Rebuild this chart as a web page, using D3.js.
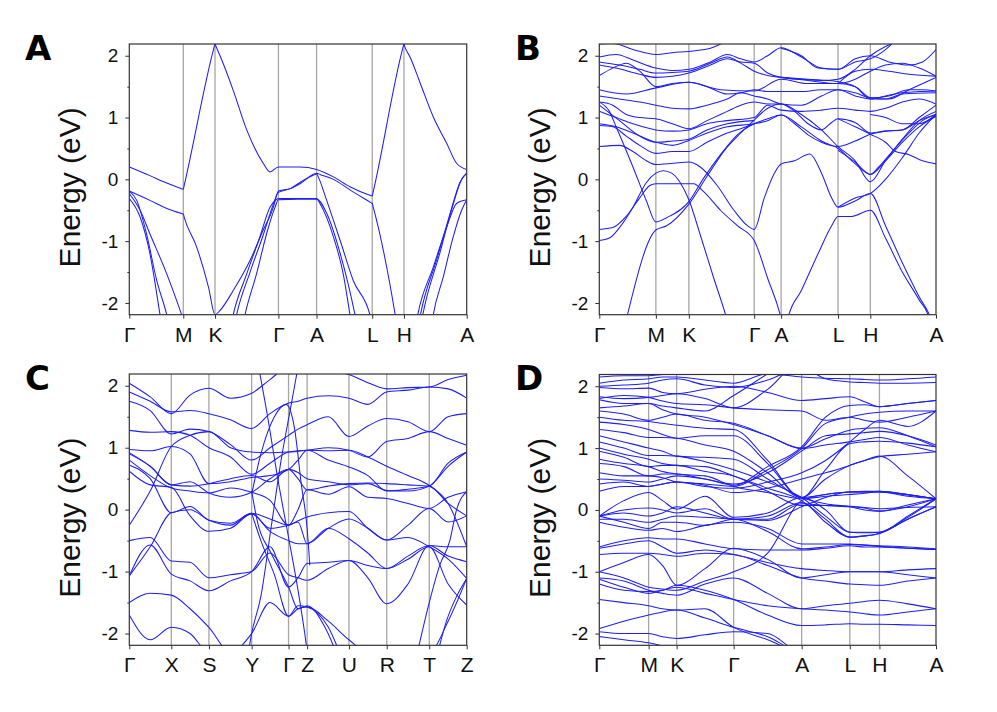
<!DOCTYPE html>
<html><head><meta charset="utf-8">
<script src="https://cdn.jsdelivr.net/npm/d3@7"></script>
<style>body{margin:0;background:#fff}svg{display:block}</style>
</head><body><svg id="c" width="997" height="712"></svg>
<script>
const yTicks = [-2,-1,0,1,2];
const yMinor = [-1.5,-0.5,0.5,1.5];
const eDomain = [-2.19, 2.19];

// ---------- Panel A ----------
const labelsA = ["Γ","M","K","Γ","A","L","H","A"];
const kposA = [0,0.160,0.254,0.442,0.555,0.720,0.814,1];
const bandsA = [
 [[0,0.2],[0.061,0.06],[0.111,-0.06],[0.157,-0.155],[0.16,-0.16],[0.163,-0.09],[0.251,2.13],[0.254,2.19],[0.257,2.15],[0.269,2.0],[0.308,1.44],[0.348,0.8],[0.397,0.26],[0.417,0.12],[0.442,0.2],[0.506,0.2],[0.555,0.16],[0.605,0.04],[0.654,-0.12],[0.717,-0.265],[0.72,-0.27],[0.723,-0.2],[0.811,2.13],[0.814,2.19],[0.817,2.14],[0.832,1.98],[0.862,1.56],[0.901,1.01],[0.941,0.58],[0.97,0.26],[1,0.16]],
 [[0,-0.19],[0.061,-0.34],[0.111,-0.47],[0.157,-0.555],[0.16,-0.56],[0.163,-0.62],[0.2,-1.1],[0.235,-1.75],[0.254,-2.19],[0.269,-2.12],[0.308,-1.8],[0.358,-1.31],[0.397,-0.82],[0.427,-0.45],[0.437,-0.25],[0.442,-0.19],[0.477,-0.15],[0.506,-0.07],[0.555,0.1],[0.565,0.08],[0.605,0.0],[0.654,-0.17],[0.717,-0.38],[0.72,-0.39],[0.723,-0.45],[0.788,-2.19],[0.8,-2.6]],
 [[0.31,-2.4],[0.318,-2.19],[0.358,-1.5],[0.397,-0.9],[0.427,-0.4],[0.442,-0.21],[0.477,-0.15],[0.506,-0.05],[0.55,0.08],[0.555,0.09],[0.56,0.04],[0.585,-0.34],[0.625,-0.99],[0.664,-1.64],[0.713,-2.19],[0.72,-2.35]],
 [[0,-0.31],[0.032,-0.61],[0.061,-1.2],[0.091,-2.19],[0.1,-2.5]],
 [[0,-0.19],[0.022,-0.34],[0.051,-0.88],[0.081,-1.63],[0.111,-2.19],[0.12,-2.4]],
 [[0,-0.23],[0.032,-0.5],[0.061,-0.88],[0.111,-1.53],[0.155,-2.19],[0.165,-2.35]],
 [[0.3,-2.4],[0.308,-2.19],[0.348,-1.53],[0.387,-0.93],[0.417,-0.45],[0.435,-0.33],[0.442,-0.31],[0.5,-0.31],[0.555,-0.31],[0.565,-0.39],[0.605,-0.93],[0.634,-1.53],[0.654,-2.19],[0.66,-2.4]],
 [[0.335,-2.4],[0.343,-2.19],[0.377,-1.53],[0.407,-0.88],[0.432,-0.45],[0.442,-0.33],[0.5,-0.32],[0.555,-0.32],[0.585,-0.55],[0.625,-1.2],[0.669,-2.19],[0.675,-2.35]],
 [[0.848,-2.4],[0.855,-2.19],[0.901,-1.42],[0.941,-0.77],[0.97,-0.39],[1,-0.33]],
 [[0.856,-2.4],[0.863,-2.19],[0.911,-1.3],[0.951,-0.55],[0.98,-0.05],[1,0.1]],
 [[0.895,-2.4],[0.901,-2.19],[0.931,-1.57],[0.96,-0.93],[0.985,-0.5],[1,-0.33]],
 [[0.863,-2.4],[0.87,-2.19],[0.92,-1.2],[0.96,-0.4],[0.985,0.0],[1,0.1]]
];

// ---------- Panel B ----------
const labelsB = ["Γ","M","K","Γ","A","L","H","A"];
const kposB = [0,0.168,0.266,0.460,0.540,0.709,0.805,1];
const bandsB = [
 [[0,-0.99],[0.03,-0.95],[0.06,-0.78],[0.1,-0.45],[0.14,-0.05],[0.168,0.1],[0.19,0.14],[0.215,0.1],[0.24,-0.05],[0.266,-0.33],[0.3,-0.9],[0.34,-1.6],[0.378,-2.25],[0.39,-2.5]],
 [[0,-0.81],[0.04,-0.78],[0.08,-0.6],[0.12,-0.3],[0.15,-0.1],[0.168,-0.07],[0.28,-0.07],[0.31,-0.2],[0.36,-0.5],[0.41,-0.75],[0.46,-0.99],[0.5,-1.6],[0.54,-2.25],[0.55,-2.5]],
 [[0,1.25],[0.03,1.1],[0.05,0.85],[0.1,0.2],[0.14,-0.35],[0.168,-0.69],[0.2,-0.62],[0.266,-0.36],[0.31,0.02],[0.36,0.4],[0.41,0.72],[0.46,0.9],[0.5,0.98],[0.54,1.04],[0.6,0.85],[0.66,0.62],[0.709,0.5],[0.75,0.3],[0.79,0.12],[0.805,0.08],[0.83,0.2],[0.87,0.45],[0.92,0.75],[0.96,0.95],[1,1.05]],
 [[0.07,-2.5],[0.081,-2.25],[0.168,-0.82],[0.2,-0.75],[0.266,-0.4],[0.32,0.05],[0.372,0.47],[0.42,0.75],[0.46,0.96],[0.5,1.15],[0.54,1.22],[0.6,1.05],[0.66,0.8],[0.709,0.53],[0.76,0.3],[0.805,-0.04],[0.85,0.3],[0.9,0.65],[0.95,0.95],[1,1.1]],
 [[0,0.53],[0.06,0.55],[0.1,0.45],[0.14,0.3],[0.168,0.24],[0.22,0.26],[0.266,0.28],[0.3,0.2],[0.35,-0.1],[0.4,-0.5],[0.44,-0.75],[0.46,-0.81],[0.49,-0.3],[0.52,0.1],[0.54,0.25],[0.58,0.3],[0.625,0.41],[0.66,0.1],[0.69,-0.3],[0.709,-0.45],[0.76,-0.35],[0.805,-0.23],[0.85,-0.75],[0.9,-1.35],[0.95,-1.9],[0.985,-2.25],[1,-2.5]],
 [[0.55,-2.5],[0.56,-2.25],[0.6,-1.8],[0.65,-1.2],[0.69,-0.75],[0.709,-0.6],[0.75,-0.6],[0.805,-0.5],[0.85,-0.95],[0.9,-1.5],[0.95,-1.95],[0.98,-2.25],[0.99,-2.5]],
 [[0.709,0.47],[0.76,0.28],[0.805,0.08],[0.85,0.3],[0.9,0.6],[0.95,0.85],[1,1.02]],
 [[0.709,-0.45],[0.76,-0.3],[0.805,-0.23],[0.85,0.0],[0.9,0.35],[0.95,0.75],[1,1.05]],
 [[0.709,0.98],[0.76,0.85],[0.805,0.73],[0.85,0.6],[0.88,0.45],[0.92,0.4],[0.96,0.3],[1,0.25]],
 [[0,2.19],[0.04,2.2],[0.1,2.1],[0.168,2.02],[0.217,2.05],[0.266,2.07],[0.33,2.12],[0.38,2.25]],
 [[0,1.98],[0.05,2.02],[0.1,1.93],[0.168,1.8],[0.217,1.76],[0.266,1.78],[0.33,1.9],[0.38,2.02],[0.42,1.95],[0.46,1.9],[0.5,2.0],[0.54,2.13],[0.6,1.98],[0.66,1.8],[0.709,1.78],[0.76,1.9],[0.805,1.95],[0.85,2.1],[0.88,2.25]],
 [[0,1.9],[0.06,1.85],[0.12,1.78],[0.168,1.72],[0.217,1.73],[0.266,1.75],[0.33,1.88],[0.38,1.98],[0.42,1.88],[0.46,1.75],[0.5,1.68],[0.54,1.65],[0.62,1.6],[0.709,1.55],[0.76,1.62],[0.805,1.75],[0.85,1.85],[0.9,1.88],[0.95,1.8],[1,1.67]],
 [[0,1.85],[0.05,1.8],[0.12,1.7],[0.168,1.65],[0.266,1.72],[0.33,1.85],[0.38,1.95],[0.42,1.9],[0.46,1.88],[0.5,1.72],[0.54,1.65],[0.6,1.62],[0.66,1.6],[0.709,1.62],[0.76,1.78],[0.805,2.0],[0.85,2.15],[0.9,2.25]],
 [[0,1.68],[0.04,1.8],[0.08,1.88],[0.12,1.75],[0.168,1.5],[0.217,1.55],[0.266,1.57],[0.32,1.5],[0.38,1.38],[0.42,1.4],[0.46,1.45],[0.5,1.42],[0.54,1.42],[0.6,1.42],[0.66,1.45],[0.709,1.45],[0.76,1.4],[0.805,1.32],[0.86,1.35],[0.92,1.45],[0.96,1.45],[1,1.43]],
 [[0,1.45],[0.08,1.38],[0.168,1.48],[0.266,1.57],[0.36,1.45],[0.46,1.43],[0.54,1.62],[0.62,1.55],[0.709,1.55],[0.76,1.5],[0.805,1.32],[0.85,1.3],[0.9,1.38],[1,1.4]],
 [[0,1.35],[0.06,1.3],[0.12,1.25],[0.168,1.2],[0.217,1.15],[0.266,1.14],[0.32,1.2],[0.38,1.3],[0.42,1.4],[0.46,1.35],[0.5,1.3],[0.54,1.22],[0.6,1.2],[0.66,1.35],[0.709,1.45],[0.76,1.35],[0.805,1.3],[0.85,1.35],[0.9,1.4],[0.95,1.42],[1,1.43]],
 [[0,1.25],[0.04,1.2],[0.08,1.05],[0.12,1.0],[0.168,0.98],[0.217,0.9],[0.266,0.82],[0.32,0.95],[0.38,1.1],[0.42,1.2],[0.46,1.25],[0.5,1.22],[0.54,1.22],[0.58,1.1],[0.62,0.9],[0.66,0.8],[0.69,0.92],[0.709,0.98],[0.76,0.92],[0.805,0.75],[0.85,0.78],[0.9,0.8],[0.95,1.0],[1,1.2]],
 [[0,1.1],[0.05,1.0],[0.1,0.9],[0.168,0.8],[0.217,0.78],[0.266,0.8],[0.32,0.9],[0.38,0.95],[0.46,1.0],[0.5,1.2],[0.54,1.12],[0.6,1.1],[0.66,1.12],[0.709,1.15],[0.76,1.12],[0.805,1.1],[0.85,1.15],[0.9,1.25],[0.95,1.3],[1,1.22]],
 [[0,0.9],[0.05,0.85],[0.1,0.75],[0.168,0.6],[0.217,0.55],[0.266,0.63],[0.32,0.75],[0.38,0.85],[0.46,0.9],[0.5,0.95],[0.54,1.04],[0.58,0.9],[0.62,0.72],[0.66,0.6],[0.709,0.53],[0.76,0.62],[0.805,0.73],[0.85,0.78],[0.9,0.8],[0.95,0.95],[1,1.05]],
 [[0,0.87],[0.04,0.85],[0.08,0.7],[0.12,0.55],[0.168,0.42],[0.217,0.45],[0.266,0.45],[0.32,0.6],[0.38,0.75],[0.42,0.82],[0.46,0.9]],
 [[0,1.2],[0.06,0.95],[0.12,0.7],[0.168,0.6],[0.217,0.62],[0.266,0.65],[0.32,0.8],[0.38,0.9],[0.46,0.95]],
 [[0.54,2.12],[0.6,2.0],[0.65,1.8],[0.709,1.78],[0.76,1.95],[0.805,2.0],[0.86,1.9],[0.92,1.85],[0.96,1.9],[1,2.1]],
 [[0.709,1.55],[0.76,1.75],[0.805,1.78],[0.86,1.75],[0.92,1.7],[1,1.67]],
 [[0.54,1.65],[0.62,1.62],[0.709,1.58],[0.76,1.5],[0.805,1.3],[0.86,1.3],[0.92,1.45],[1,1.65]],
 [[0.805,1.05],[0.85,1.0],[0.9,0.9],[0.95,0.9],[1,1.05]]
];

// ---------- Panel C ----------
const labelsC = ["Γ","X","S","Y","Γ","Z","U","R","T","Z"];
const kposC = [0,0.1245,0.236,0.3626,0.472,0.527,0.651,0.763,0.889,1];
const gridC = [0,0.062,0.1245,0.18,0.236,0.30,0.3626,0.417,0.472,0.50,0.527,0.59,0.651,0.707,0.763,0.826,0.889,0.945,1];
const valuesC = [
 [2.04,1.82,1.55,1.85,1.96,1.8,1.88,2.1,2.3,2.3,2.3,2.25,2.18,2.05,1.95,1.97,1.98,2.1,2.17],
 [1.9,1.75,1.58,1.6,1.55,1.45,1.31,1.55,1.72,1.75,1.8,1.84,1.8,1.7,1.9,1.93,1.98,1.95,1.8],
 [1.75,1.6,1.22,1.3,1.26,1.05,0.8,1.0,1.2,1.3,1.37,1.5,1.18,1.35,1.47,1.42,1.26,1.5,1.55],
 [1.28,1.25,1.26,1.2,1.0,0.85,0.57,0.75,0.93,0.95,0.96,1.0,0.96,0.85,1.1,1.15,1.26,1.15,1.04],
 [0.97,0.95,1.02,0.9,0.42,0.45,0.52,0.55,0.65,0.8,0.96,0.8,0.69,0.55,0.3,0.33,0.38,0.75,0.93],
 [0.92,0.7,0.4,0.38,0.42,0.5,0.55,0.45,0.65,0.5,0.32,0.38,0.42,0.43,0.42,0.4,0.38,0.1,-0.1],
 [0.8,0.55,0.35,0.3,0.27,0.35,0.28,0.15,-0.25,0.0,0.32,0.25,0.37,0.2,0.18,0.1,0.02,0.2,0.29],
 [0.72,0.5,-0.05,0.05,-0.17,-0.22,-0.06,-0.15,-0.25,-0.18,-0.12,-0.05,-0.03,-0.3,-0.49,-0.25,0.02,-0.2,-0.1],
 [0.62,0.4,0.36,-0.1,-0.35,-0.3,-0.07,-0.35,-0.5,-0.55,-0.55,-0.3,-0.47,-0.7,-0.95,-0.75,-0.58,-0.6,-0.6],
 [-0.25,0.3,1.02,1.2,1.26,1.0,0.93,0.92,0.93,0.94,0.96,0.95,0.96,0.85,0.7,0.55,0.39,0.1,-0.6],
 [-0.5,-0.45,-0.83,-0.85,-1.1,-1.05,-1.0,-0.7,-1.05,-1.1,-1.14,-0.95,-0.82,-1.1,-1.52,-1.2,-0.58,-0.75,-0.84],
 [-1.07,-0.6,-0.05,0.0,-0.17,-0.25,-0.06,-0.3,-0.25,-0.2,-0.55,-0.3,-0.15,-0.3,-0.49,-0.45,-0.6,-0.8,-1.11],
 [-1.07,-0.57,-1.04,-1.15,-1.31,-1.15,-1.0,-0.6,-1.25,-1.1,-0.87,-0.85,-0.82,-0.9,-0.95,-0.8,-0.6,-1.2,-1.54],
 [-1.5,-1.35,-1.38,-1.6,-1.9,-2.3,-2.0,-1.5,-1.72,-1.6,-1.57,-1.8,-2.1,-2.3,-2.3,-2.3,-2.3,-1.8,-1.11],
 [-1.7,-2.1,-1.9,-2.0,-2.3,-2.3,-2.3,-2.3,-2.3,-2.3,-2.3,-2.3,-2.3,-2.3,-2.3,-2.3,-2.3,-2.3,-2.3],
 [0.9,0.7,0.4,0.45,0.27,0.2,0.28,0.5,0.65,0.6,0.5,0.45,0.4,0.42,0.31,0.3,0.38,0.7,0.93]
];
const extraC = [
 [[0.35,-2.4],[0.3626,-2.0],[0.39,-1.4],[0.42,-0.3],[0.45,0.8],[0.48,1.7],[0.5,2.3]],
 [[0.38,2.4],[0.41,1.5],[0.44,0.5],[0.472,-0.45],[0.5,-1.3],[0.52,-2.0],[0.53,-2.4]],
 [[0.3626,0.25],[0.39,0.9],[0.43,1.5],[0.465,1.7],[0.49,1.3],[0.51,0.4],[0.527,-0.3],[0.535,-0.9]],
 [[0.3626,0.3],[0.38,-0.2],[0.42,-0.7],[0.472,-1.25],[0.5,-1.6],[0.527,-1.55],[0.58,-1.9],[0.62,-2.4]],
 [[0.3626,-0.06],[0.39,-0.5],[0.43,-1.05],[0.472,-1.72],[0.5,-1.55],[0.527,-1.57],[0.59,-1.9],[0.63,-2.4]],
 [[0.85,-2.4],[0.889,-1.5],[0.92,-0.9],[0.95,-0.5],[0.97,0.0],[1,0.29]],
 [[0.91,-2.4],[0.94,-1.8],[0.97,-1.4],[1,-1.11]]
];

// ---------- Panel D ----------
const labelsD = ["Γ","M","K","Γ","A","L","H","A"];
const kposD = [0,0.1465,0.2297,0.399,0.601,0.744,0.832,1];
const gridD = [0,0.073,0.1465,0.188,0.2297,0.314,0.399,0.5,0.601,0.672,0.744,0.788,0.832,0.916,1];
const valuesD = [
 [2.15,2.17,2.17,2.19,2.2,2.22,2.25,2.3,2.3,2.3,2.3,2.3,2.3,2.3,2.3],
 [2.05,2.1,2.12,2.15,2.15,2.1,2.05,2.2,2.15,2.13,2.12,2.11,2.1,2.12,2.15],
 [2.0,2.02,2.05,2.1,2.12,2.02,1.98,2.1,2.3,2.12,2.07,2.06,2.05,2.05,2.06],
 [1.98,1.96,1.97,1.9,1.88,1.95,2.0,1.9,1.77,1.8,1.83,1.75,1.67,1.72,1.77],
 [1.83,1.8,1.82,1.85,1.88,1.8,1.65,1.95,2.4,2.35,2.3,2.3,2.3,2.3,2.3],
 [1.8,1.85,1.82,1.76,1.72,1.7,1.65,1.62,1.6,1.45,1.5,1.45,1.42,1.5,1.6],
 [1.78,1.72,1.72,1.68,1.65,1.6,1.85,2.2,2.5,2.4,2.3,2.3,2.3,2.3,2.3],
 [1.65,1.68,1.72,1.62,1.55,1.5,1.38,1.2,1.0,1.15,1.29,1.32,1.33,1.2,1.02],
 [1.6,1.55,1.45,1.5,1.55,1.45,1.4,1.2,0.99,1.05,1.1,1.14,1.17,1.05,0.94],
 [1.5,1.45,1.43,1.4,1.37,1.32,1.3,0.8,0.2,0.65,1.07,1.1,1.11,1.08,1.02],
 [1.42,1.38,1.3,1.22,1.16,1.2,1.2,0.75,0.2,0.5,0.72,0.8,0.87,0.55,0.18],
 [1.3,1.25,1.17,1.17,1.16,1.05,0.95,0.6,0.2,0.25,0.29,0.29,0.29,0.24,0.18],
 [1.2,1.1,1.0,0.95,0.87,0.85,0.82,0.5,0.2,0.1,0.05,0.0,-0.02,0.08,0.18],
 [1.1,1.0,0.88,0.88,0.87,0.78,0.65,0.45,0.2,-0.1,-0.36,-0.37,-0.36,-0.12,0.18],
 [1.0,0.9,0.82,0.75,0.72,0.7,0.55,0.35,0.15,-0.15,-0.44,-0.42,-0.38,-0.15,0.05],
 [0.95,0.85,0.7,0.72,0.72,0.62,0.55,0.3,0.07,0.07,0.06,0.04,0.02,0.04,0.05],
 [0.82,0.75,0.7,0.62,0.58,0.55,0.38,0.28,0.18,0.22,0.25,0.27,0.3,0.25,0.18],
 [0.75,0.7,0.55,0.58,0.58,0.5,0.42,0.6,0.95,1.2,1.23,1.25,1.27,1.2,1.05],
 [0.6,0.55,0.55,0.52,0.45,0.42,0.38,0.65,0.99,1.4,1.5,1.55,1.58,1.6,1.6],
 [0.5,0.48,0.45,0.5,0.55,0.5,0.4,0.7,1.02,1.5,1.69,1.7,1.67,1.72,1.77],
 [0.42,0.45,0.38,0.42,0.45,0.38,0.35,0.45,0.6,0.8,1.1,1.3,1.45,1.35,1.6],
 [0.3,0.38,0.38,0.42,0.45,0.4,0.28,0.35,0.5,0.6,0.72,0.8,0.86,0.9,0.94],
 [-0.1,0.15,0.28,0.15,0.01,0.22,-0.12,-0.05,0.2,0.0,-0.36,-0.36,-0.36,-0.1,0.18],
 [-0.1,0.0,0.03,0.0,-0.05,0.02,-0.15,-0.1,0.12,-0.2,-0.44,-0.42,-0.38,-0.15,0.05],
 [-0.1,-0.05,-0.1,-0.05,0.05,-0.05,-0.15,-0.15,0.1,0.07,0.05,0.03,-0.02,0.05,0.18],
 [-0.15,-0.15,-0.2,-0.15,-0.1,-0.12,-0.15,-0.17,0.05,0.2,0.29,0.29,0.29,0.22,0.18],
 [-0.1,-0.2,-0.3,-0.2,-0.2,-0.25,-0.15,-0.35,-0.63,-0.6,-0.56,-0.57,-0.59,-0.62,-0.64],
 [-0.2,-0.28,-0.33,-0.3,-0.35,-0.25,-0.2,-0.3,-0.55,-0.55,-0.55,-0.57,-0.58,-0.6,-0.63],
 [-0.6,-0.5,-0.45,-0.47,-0.47,-0.55,-0.63,-0.65,-0.65,-0.62,-0.58,-0.6,-0.6,-0.62,-0.64],
 [-0.62,-0.55,-0.5,-0.6,-0.7,-0.65,-0.72,-0.85,-0.95,-0.98,-1.0,-1.0,-1.0,-0.97,-0.95],
 [-0.72,-0.7,-0.7,-0.72,-0.75,-0.7,-0.72,-0.9,-1.1,-1.15,-1.2,-1.21,-1.22,-1.15,-1.1],
 [-1.0,-0.85,-0.72,-0.9,-1.22,-0.95,-0.62,-0.8,-1.1,-1.05,-1.0,-1.0,-1.0,-1.05,-1.1],
 [-1.0,-1.1,-1.25,-1.28,-1.3,-1.15,-1.0,-0.7,0.15,0.25,0.29,0.3,0.3,0.25,0.18],
 [-1.1,-1.15,-1.3,-1.35,-1.38,-1.2,-1.1,-1.35,-1.6,-1.55,-1.51,-1.48,-1.46,-1.52,-1.6],
 [-1.12,-1.25,-1.35,-1.3,-1.25,-1.35,-1.45,-1.55,-1.6,-1.62,-1.65,-1.68,-1.7,-1.65,-1.6],
 [-1.2,-1.3,-1.32,-1.3,-1.22,-1.3,-1.45,-1.7,-1.87,-1.86,-1.84,-1.85,-1.85,-1.86,-1.87],
 [-1.45,-1.5,-1.55,-1.6,-1.62,-1.6,-1.9,-2.1,-2.3,-2.3,-2.3,-2.3,-2.3,-2.3,-2.3],
 [-1.92,-1.8,-1.7,-1.65,-1.62,-1.75,-1.9,-2.05,-2.3,-2.3,-2.3,-2.3,-2.3,-2.3,-2.3],
 [-1.97,-2.0,-2.0,-2.05,-2.08,-2.02,-1.97,-2.0,-2.3,-2.3,-2.3,-2.3,-2.3,-2.3,-2.3],
 [-2.05,-2.1,-2.15,-2.2,-2.25,-2.3,-2.3,-2.3,-2.3,-2.3,-2.3,-2.3,-2.3,-2.3,-2.3]
];

const svg = d3.select("#c");
svg.append("rect").attr("width",997).attr("height",712).attr("fill","#fff");
const FONT = "'Liberation Sans', Arial, Helvetica, sans-serif";
const BAND = "#1e1ef5";

function toPts(grid, vals){ return vals.map(v => grid.map((f,i)=>[f,v[i]])); }

const panels = [
 {name:"A", x0:129.3, x1:466.7, y0:44, y1:314.7, labels:labelsA, kpos:kposA, bands:bandsA, lx:25, ly:60, tx:80},
 {name:"B", x0:599.3, x1:936, y0:44, y1:314.7, labels:labelsB, kpos:kposB, bands:bandsB, lx:515, ly:60, tx:550},
 {name:"C", x0:129.3, x1:466.7, y0:374, y1:645.3, labels:labelsC, kpos:kposC, bands:toPts(gridC,valuesC).concat(extraC), lx:25, ly:390, tx:80},
 {name:"D", x0:599.3, x1:936, y0:374.5, y1:645.3, labels:labelsD, kpos:kposD, bands:toPts(gridD,valuesD), lx:515, ly:390, tx:550}
];

panels.forEach(p => {
  const x = d3.scaleLinear().domain([0,1]).range([p.x0,p.x1]);
  const y = d3.scaleLinear().domain(eDomain).range([p.y1,p.y0]);
  const g = svg.append("g");
  const cid = "clip"+p.name;
  svg.append("clipPath").attr("id",cid).append("rect")
    .attr("x",p.x0).attr("y",p.y0).attr("width",p.x1-p.x0).attr("height",p.y1-p.y0);
  g.selectAll("line.sym").data(p.kpos.slice(1,-1)).join("line")
    .attr("x1",d=>x(d)).attr("x2",d=>x(d)).attr("y1",p.y0).attr("y2",p.y1)
    .attr("stroke","#a6a6a6").attr("stroke-width",1.3);
  const line = d3.line().x(d=>x(d[0])).y(d=>y(d[1])).curve(d3.curveMonotoneX);
  g.append("g").attr("clip-path",`url(#${cid})`)
    .selectAll("path").data(p.bands).join("path")
    .attr("d",line).attr("fill","none").attr("stroke",BAND).attr("stroke-width",1.05);
  const ya = g.append("g").attr("transform",`translate(${p.x0},0)`)
    .call(d3.axisLeft(y).tickValues(yTicks).tickSize(4).tickPadding(7).tickFormat(d=>String(d)));
  ya.select(".domain").remove();
  ya.selectAll("text").attr("font-family",FONT).attr("font-size",19).attr("fill","#111");
  ya.selectAll("line").attr("stroke","#333");
  g.append("g").attr("transform",`translate(${p.x0},0)`)
    .call(d3.axisLeft(y).tickValues(yMinor).tickSize(2).tickFormat(""))
    .call(s=>{s.select(".domain").remove(); s.selectAll("line").attr("stroke","#333");});
  const xa = g.append("g").attr("transform",`translate(0,${p.y1})`)
    .call(d3.axisBottom(x).tickValues(p.kpos).tickSize(4).tickPadding(8).tickFormat((d,i)=>p.labels[i]));
  xa.select(".domain").remove();
  xa.selectAll("text").attr("font-family",FONT).attr("font-size",21).attr("fill","#111");
  xa.selectAll("line").attr("stroke","#333");
  g.append("rect").attr("x",p.x0).attr("y",p.y0).attr("width",p.x1-p.x0).attr("height",p.y1-p.y0)
    .attr("fill","none").attr("stroke","#333").attr("stroke-width",1.2);
  g.append("text").attr("transform",`translate(${p.tx},${(p.y0+p.y1)/2+8}) rotate(-90)`)
    .attr("text-anchor","middle").attr("font-family",FONT).attr("font-size",30).attr("fill","#111")
    .text("Energy (eV)");
  g.append("text").attr("x",p.lx).attr("y",p.ly).attr("font-family","'DejaVu Sans', 'Liberation Sans', sans-serif").attr("font-weight","bold")
    .attr("font-size",34).attr("fill","#000").text(p.name);
});
</script>
</body></html>
